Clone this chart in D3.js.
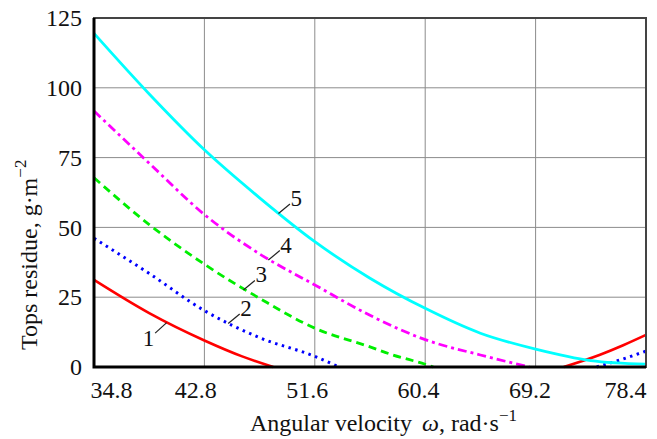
<!DOCTYPE html>
<html>
<head>
<meta charset="utf-8">
<script src="https://cdn.jsdelivr.net/npm/d3@7"></script>
<style>
  body { margin: 0; background: #fff; }
  text { font-family: "Liberation Serif", "Times New Roman", serif; fill: #111; }
</style>
</head>
<body>
<svg id="chart"></svg>
<script>
// data (omega in rad/s, residue in g/m^2), null = curve sits at zero
const xTicks = [34.8, 42.8, 51.6, 60.4, 69.2, 78.4]
const yTicks = [0, 25, 50, 75, 100, 125]

const omega1 = [34.8, 39.16, 43.52, 46.5, 48.96, 60, 71.9, 74.77, 76.6, 78.4]
const tops1 = [31.2, 19.3, 9.5, 3.8, 0, null, 0, 4.4, 7.8, 11.5]

const omega2 = [34.8, 39.16, 43.52, 47.88, 52.24, 54.15, 64, 74.5, 76.4, 78.4]
const tops2 = [46.1, 33.5, 20.2, 10.5, 3.8, 0, null, 0, 2.6, 5.7]

const omega3 = [34.8, 39.16, 43.52, 47.88, 52.24, 56.6, 58.4, 60.96, 61.6]
const tops3 = [67.8, 51, 36.8, 24.6, 13.9, 7.2, 4.3, 1, 0]

const omega4 = [34.8, 39.16, 43.52, 47.88, 52.24, 56.6, 60.96, 65.32, 69.2]
const tops4 = [91.7, 73, 54.6, 40.5, 29.4, 18.5, 9.8, 4.3, 0]

const omega5 = [34.8, 39.16, 43.52, 47.88, 52.24, 56.6, 60.96, 65.32, 69.68, 74.04, 78.4]
const tops5 = [119.5, 97.8, 77.8, 60.6, 44.9, 31.8, 21, 12.1, 6.4, 2.3, 1]

const curveNames = ["1", "2", "3", "4", "5"]
const labelOmega = [40.54, 45.4, 46.6, 48.57, 49.37]
const labelTops = [15.9, 15.6, 27.6, 38.3, 55]

const width = 657
const height = 439
const margin = {top: 18, right: 11, bottom: 72, left: 94}
const serif = "Liberation Serif, Times New Roman, serif"

const svg = d3.select("#chart")
  .attr("width", width)
  .attr("height", height)

const x = d3.scaleLinear()
  .domain([34.8, 78.4])
  .range([margin.left, width - margin.right])
const y = d3.scaleLinear()
  .domain([0, 125])
  .range([height - margin.bottom, margin.top])

// grid: five equal columns, rows at the y ticks
const gridOmega = d3.range(1, 5).map(i => 34.8 + i * (78.4 - 34.8) / 5)
const grid = svg.append("g")
  .attr("stroke", "#8c8c8c")
  .attr("stroke-width", 1)
grid.selectAll("line.v")
  .data(gridOmega)
  .enter().append("line")
  .attr("x1", d => x(d)).attr("x2", d => x(d))
  .attr("y1", y(0)).attr("y2", y(125))
grid.selectAll("line.h")
  .data(yTicks.slice(1, -1))
  .enter().append("line")
  .attr("x1", x(34.8)).attr("x2", x(78.4))
  .attr("y1", d => y(d)).attr("y2", d => y(d))

// curves
const series = [
  {omega: omega1, tops: tops1, color: "#ff0000", dash: null, w: 2.6},
  {omega: omega2, tops: tops2, color: "#0000ff", dash: "2.5,4.5", w: 3},
  {omega: omega3, tops: tops3, color: "#00ee00", dash: "8,5", w: 2.8},
  {omega: omega4, tops: tops4, color: "#ff00ff", dash: "9,4,3,4", w: 2.8},
  {omega: omega5, tops: tops5, color: "#00ffff", dash: null, w: 2.8}
]

const line = d3.line()
  .defined(d => d[1] != null)
  .x(d => x(d[0]))
  .y(d => y(d[1]))
  .curve(d3.curveMonotoneX)

svg.append("g")
  .selectAll("path")
  .data(series)
  .enter().append("path")
  .attr("d", s => line(s.omega.map((o, i) => [o, s.tops[i]])))
  .attr("fill", "none")
  .attr("stroke", s => s.color)
  .attr("stroke-width", s => s.w)
  .attr("stroke-dasharray", s => s.dash)

// frame
svg.append("rect")
  .attr("x", x(34.8)).attr("y", y(125))
  .attr("width", x(78.4) - x(34.8))
  .attr("height", y(0) - y(125))
  .attr("fill", "none")
  .attr("stroke", "#444")
  .attr("stroke-width", 2)
svg.append("path")
  .attr("d", `M${x(34.8)},${y(125)}V${y(0)}H${x(78.4)}`)
  .attr("fill", "none")
  .attr("stroke", "#000")
  .attr("stroke-width", 3)

// axes
const xAxis = svg.append("g")
  .attr("transform", `translate(0,${y(0)})`)
  .call(d3.axisBottom(x).tickValues(xTicks).tickSize(0).tickPadding(14).tickFormat(d3.format(".1f")))
xAxis.attr("font-family", serif).attr("font-size", 24)
xAxis.select(".domain").remove()
xAxis.selectAll("text")
  .style("font-family", serif)
  .attr("font-size", 24)
  .attr("fill", "#111")
  .attr("text-anchor", (d, i) => i == 0 ? "start" : i == xTicks.length - 1 ? "end" : "middle")
  .attr("dx", (d, i) => i == 0 ? -4 : 0)

const yAxis = svg.append("g")
  .attr("transform", `translate(${x(34.8)},0)`)
  .call(d3.axisLeft(y).tickValues(yTicks).tickSize(0).tickPadding(12))
yAxis.attr("font-family", serif).attr("font-size", 24)
yAxis.select(".domain").remove()
yAxis.selectAll("text")
  .style("font-family", serif)
  .attr("font-size", 24)
  .attr("fill", "#111")

// axis titles
const xTitle = svg.append("text")
  .attr("x", 250)
  .attr("y", 431)
  .attr("font-size", 24)
xTitle.append("tspan").text("Angular velocity")
xTitle.append("tspan").attr("dx", 10).attr("font-style", "italic").text("ω")
xTitle.append("tspan").text(", rad·s")
xTitle.append("tspan").attr("font-size", 17).attr("dy", -10).text("−1")

const yTitle = svg.append("text")
  .attr("transform", "translate(37,350) rotate(-90)")
  .attr("font-size", 24)
yTitle.append("tspan").text("Tops residue, g·m")
yTitle.append("tspan").attr("font-size", 17).attr("dy", -11).text("−2")

// curve numbers with leader lines
const labels = svg.append("g")
curveNames.forEach((name, i) => {
  const px = x(labelOmega[i])
  const py = y(labelTops[i])
  const below = i == 0
  const ex = below ? px - 11.5 : px + 11.5
  const ey = below ? py + 10.5 : py - 9.5
  labels.append("line")
    .attr("x1", px).attr("y1", py)
    .attr("x2", ex).attr("y2", ey)
    .attr("stroke", "#222")
    .attr("stroke-width", 1.2)
  labels.append("text")
    .attr("x", below ? ex - 1 : ex + 0.5)
    .attr("y", below ? ey + 13 : ey + 2)
    .attr("text-anchor", below ? "end" : "start")
    .attr("font-size", 23)
    .text(name)
})
</script>
</body>
</html>
